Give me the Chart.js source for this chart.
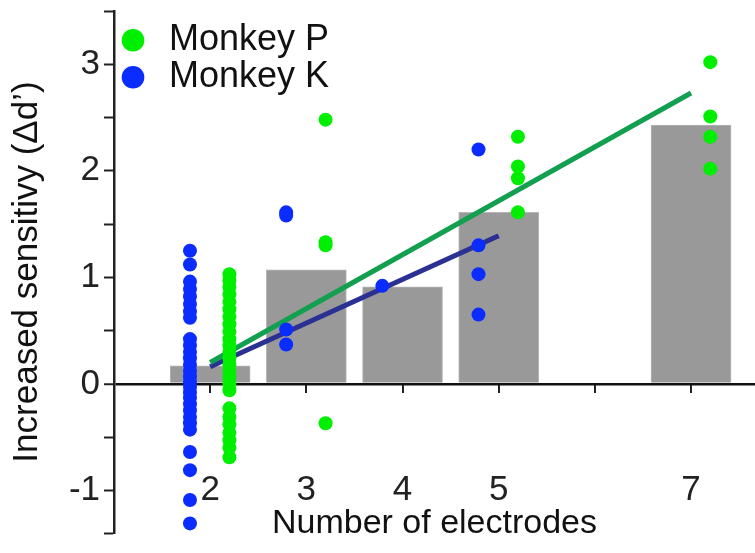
<!DOCTYPE html>
<html>
<head>
<meta charset="utf-8">
<script src="https://cdn.jsdelivr.net/npm/chart.js@4.4.1/dist/chart.umd.min.js"></script>
<style>
  body { margin: 0; background: #fff; }
</style>
</head>
<body>
<canvas id="sensCanvas" width="755" height="553"></canvas>
<script>
// number of electrodes and the mean increase for each (grey bars)
var electrodes = [2, 3, 4, 5, 7];
var barMeans = [0.17, 1.07, 0.91, 1.61, 2.43];

// Monkey P sessions, by number of electrodes
var p2 = [1.03, 0.97, 0.91, 0.84, 0.77, 0.70, 0.63, 0.56, 0.49, 0.42, 0.36, 0.30, 0.24, 0.18, 0.12, 0.06, 0.0, -0.06,
          -0.23, -0.31, -0.38, -0.46, -0.53, -0.60, -0.69];
var p3 = [2.48, 1.33, 1.30, -0.37];
var p5 = [2.32, 2.04, 1.93, 1.61];
var p7 = [3.02, 2.51, 2.32, 2.02];

// Monkey K sessions
var k2 = [1.25, 1.12, 0.96, 0.89, 0.82, 0.75, 0.68, 0.62, 0.42, 0.36, 0.30, 0.24, 0.18, 0.12, 0.07, 0.02, -0.03,
          -0.08, -0.13, -0.19, -0.25, -0.31, -0.37, -0.43, -0.64, -0.81, -1.09, -1.31];
var k3 = [1.61, 1.58, 0.51, 0.37];
var k4 = [0.92];
var k5 = [2.20, 1.30, 1.03, 0.65];

// regression lines (end points)
var fitPx = [2, 7];
var fitPy = [0.20, 2.73];
var fitKx = [2, 5];
var fitKy = [0.16, 1.39];

var yTicks = [-1.4, -1, -0.5, 0, 0.5, 1, 1.5, 2, 2.5, 3, 3.5];
var xTickMarks = [2, 3, 4, 5, 6, 7];

Chart.defaults.font.family = '"Liberation Sans", Arial, sans-serif';

// dots are shifted sideways from the electrode count, K left and P right
function pts(n, vals, shift) {
    return vals.map(function(v) { return { x: n + shift, y: v }; });
}

var pData = [].concat(pts(2, p2, 0.2), pts(3, p3, 0.2), pts(5, p5, 0.2), pts(7, p7, 0.2));
var kData = [].concat(pts(2, k2, -0.21), pts(3, k3, -0.21), pts(4, k4, -0.21), pts(5, k5, -0.21));

var barData = electrodes.map(function(n, i) { return { x: n, y: barMeans[i] }; });
var fitP = fitPx.map(function(x, i) { return { x: x, y: fitPy[i] }; });
var fitK = fitKx.map(function(x, i) { return { x: x, y: fitKy[i] }; });

const ctx = document.getElementById('sensCanvas');

var myChart = new Chart(ctx, {
    type: 'scatter',
    data: {
        datasets: [
            {
                label: 'Monkey P',
                data: pData,
                backgroundColor: '#00ee00',
                borderWidth: 0,
                pointRadius: 7,
                pointHoverRadius: 7,
                order: 1
            },
            {
                label: 'Monkey K',
                data: kData,
                backgroundColor: '#0a2cff',
                borderWidth: 0,
                pointRadius: 7,
                pointHoverRadius: 7,
                order: 1
            },
            {
                type: 'line',
                label: 'fit P',
                data: fitP,
                borderColor: '#12a050',
                borderWidth: 5,
                pointRadius: 0,
                fill: false,
                order: 2
            },
            {
                type: 'line',
                label: 'fit K',
                data: fitK,
                borderColor: '#2b3093',
                borderWidth: 5,
                pointRadius: 0,
                fill: false,
                order: 2
            },
            {
                type: 'bar',
                label: 'mean',
                data: barData,
                backgroundColor: '#999999',
                borderColor: '#b5b5b5',
                borderWidth: 1,
                barThickness: 80,
                order: 3
            }
        ]
    },
    options: {
        responsive: false,
        animation: false,
        events: [],
        layout: { autoPadding: false, padding: { left: 0, right: 0, top: 11, bottom: 20 } },
        scales: {
            x: {
                type: 'linear',
                min: 1,
                max: 7.665,
                offset: false,
                position: { y: -0.8 },
                afterBuildTicks: function(s) { s.ticks = electrodes.map(function(v) { return { value: v }; }); },
                ticks: { font: { size: 35 }, color: '#222', padding: 0, maxRotation: 0, autoSkip: false },
                grid: { display: false, drawTicks: false, offset: false },
                border: { display: false },
                title: {
                    display: true,
                    text: 'Number of electrodes',
                    font: { size: 34 },
                    color: '#111',
                    padding: { top: -8, bottom: 0 }
                }
            },
            x0: {
                axis: 'x',
                type: 'linear',
                min: 1,
                max: 7.665,
                offset: false,
                position: { y: 0 },
                afterBuildTicks: function(s) { s.ticks = xTickMarks.map(function(v) { return { value: v }; }); },
                ticks: { display: false },
                grid: { drawOnChartArea: false, drawTicks: true, tickLength: 9, color: '#222', tickColor: '#222', lineWidth: 2, tickWidth: 2 },
                border: { display: false }
            },
            y: {
                type: 'linear',
                min: -1.4,
                max: 3.5,
                position: 'left',
                afterBuildTicks: function(s) { s.ticks = yTicks.map(function(v) { return { value: v }; }); },
                afterFit: function(s) { s.width = 114; },
                ticks: {
                    font: { size: 35 },
                    color: '#222',
                    padding: 4,
                    callback: function(v) { return Number.isInteger(v) ? String(v) : []; }
                },
                grid: {
                    drawOnChartArea: true,
                    color: function(c) { return (c.tick && c.tick.value === 0) ? '#111' : 'rgba(0,0,0,0)'; },
                    lineWidth: function(c) { return (c.tick && c.tick.value === 0) ? 2.5 : 1; },
                    tickColor: '#222',
                    tickWidth: 2,
                    tickLength: 10
                },
                border: { display: true, color: '#222', width: 2.5 },
                title: {
                    display: true,
                    text: 'Increased sensitivy (Δd’)',
                    font: { size: 35 },
                    color: '#111',
                    padding: { top: 6, bottom: 0 }
                }
            }
        },
        plugins: {
            legend: {
                position: 'chartArea',
                align: 'start',
                title: { display: true, text: ' ', font: { size: 1 }, padding: { top: 20, bottom: 0 } },
                labels: {
                    usePointStyle: true,
                    pointStyle: 'circle',
                    boxWidth: 36,
                    boxHeight: 16,
                    padding: 1,
                    font: { size: 36 },
                    color: '#111',
                    filter: function(item) { return item.datasetIndex < 2; }
                }
            },
            tooltip: { enabled: false }
        }
    }
});
</script>
</body>
</html>
